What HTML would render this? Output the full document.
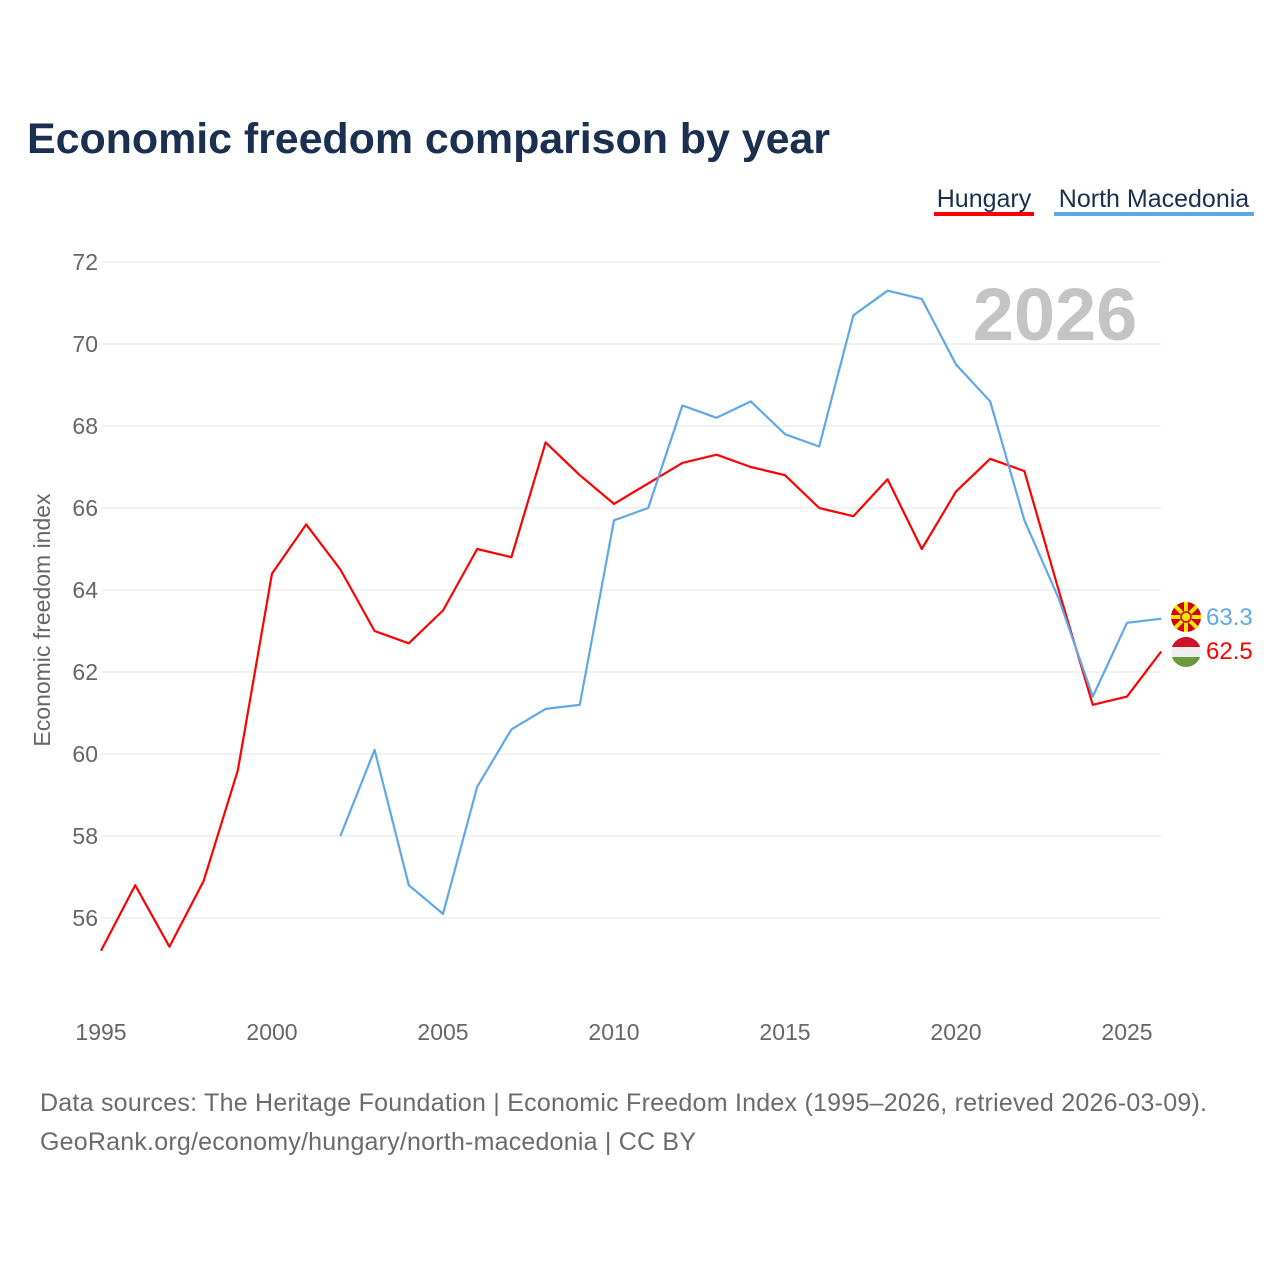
<!DOCTYPE html>
<html><head><meta charset="utf-8"><style>
body{margin:0;background:#fff;width:1280px;height:1280px;overflow:hidden;font-family:"Liberation Sans",sans-serif}
</style></head><body>
<svg width="1280" height="1280" xmlns="http://www.w3.org/2000/svg">
<text x="27" y="153" font-size="43" font-weight="bold" fill="#1b2f50" textLength="803">Economic freedom comparison by year</text>
<g>
<text x="984" y="207" font-size="25" fill="#1b2f50" text-anchor="middle">Hungary</text>
<rect x="934" y="212" width="100" height="4" fill="#ff0000"/>
<text x="1154" y="207" font-size="25" fill="#1b2f50" text-anchor="middle">North Macedonia</text>
<rect x="1054" y="212" width="200" height="4" fill="#5ea8e8"/>
</g>
<g id="grid"></g>
<g id="yt"></g>
<g id="xt"></g>
<text x="1055" y="340" font-size="74" font-weight="bold" fill="#c4c4c4" text-anchor="middle">2026</text>
<text transform="translate(50,620) rotate(-90)" font-size="23" fill="#666" text-anchor="middle">Economic freedom index</text>
<g id="lines"></g>
<g>
<circle cx="1186" cy="617" r="15" fill="#d20000"/>
<g stroke="#ffe600" stroke-width="4">
<line x1="1171" y1="617" x2="1201" y2="617"/><line x1="1186" y1="602" x2="1186" y2="632"/>
<line x1="1175" y1="606" x2="1197" y2="628"/><line x1="1197" y1="606" x2="1175" y2="628"/>
</g><circle cx="1186" cy="617" r="5" fill="#ffe600" stroke="#d20000" stroke-width="1.5"/>
</g>
<g>
<clipPath id="hc"><circle cx="1186" cy="652" r="15"/></clipPath>
<g clip-path="url(#hc)"><rect x="1170" y="637" width="32" height="10" fill="#ce1126"/><rect x="1170" y="647" width="32" height="10" fill="#eee"/><rect x="1170" y="657" width="32" height="11" fill="#6a9a3a"/></g>
</g>
<text id="lblN" x="1206" y="625" font-size="24" fill="#5ea8e8"></text>
<text id="lblH" x="1206" y="659" font-size="24" fill="#ff0000"></text>
<text x="40" y="1111" font-size="25" fill="#6b6b6b" textLength="1167">Data sources: The Heritage Foundation | Economic Freedom Index (1995–2026, retrieved 2026-03-09).</text>
<text x="40" y="1150" font-size="25" fill="#6b6b6b" textLength="656">GeoRank.org/economy/hungary/north-macedonia | CC BY</text>
</svg>
<script>
const years=[1995,1996,1997,1998,1999,2000,2001,2002,2003,2004,2005,2006,2007,2008,2009,2010,2011,2012,2013,2014,2015,2016,2017,2018,2019,2020,2021,2022,2023,2024,2025,2026];
const hungary=[55.2,56.8,55.3,56.9,59.6,64.4,65.6,64.5,63.0,62.7,63.5,65.0,64.8,67.6,66.8,66.1,66.6,67.1,67.3,67.0,66.8,66.0,65.8,66.7,65.0,66.4,67.2,66.9,64.0,61.2,61.4,62.5];
const macedonia=[null,null,null,null,null,null,null,58.0,60.1,56.8,56.1,59.2,60.6,61.1,61.2,65.7,66.0,68.5,68.2,68.6,67.8,67.5,70.7,71.3,71.1,69.5,68.6,65.7,63.8,61.4,63.2,63.3];
const yTicks=[56,58,60,62,64,66,68,70,72];
const xTicks=[1995,2000,2005,2010,2015,2020,2025];
const NS='http://www.w3.org/2000/svg';
const xs=y=>101+(y-1995)*(1127-101)/30;
const ys=v=>262+(72-v)*41;
function mk(t,a,p){const e=document.createElementNS(NS,t);for(const k in a)e.setAttribute(k,a[k]);document.getElementById(p).appendChild(e);return e;}
yTicks.forEach(v=>{
const l=mk('line',{x1:101,x2:1161,y1:ys(v),y2:ys(v),stroke:'#e6e6e6','stroke-width':1},'grid');


const t=mk('text',{x:98,y:ys(v)+8,'font-size':23,fill:'#666','text-anchor':'end'},'yt');t.textContent=v;


});
xTicks.forEach(v=>{
const t=mk('text',{x:xs(v),y:1040,'font-size':23,fill:'#666','text-anchor':'middle'},'xt');t.textContent=v;


});
function line(d,c,n){let s='';d.forEach((v,i)=>{if(v==null)return;s+=(s?'L':'M')+xs(years[i])+','+ys(v);});
const p=mk('path',{d:s,fill:'none',stroke:c,'stroke-width':2.2,'stroke-linejoin':'round'},'lines');

}
line(hungary,'#ff0000','line-hungary');
line(macedonia,'#5ea8e8','line-north-macedonia');
document.getElementById('lblN').textContent=macedonia[macedonia.length-1].toFixed(1);
document.getElementById('lblH').textContent=hungary[hungary.length-1].toFixed(1);
</script>
</body></html>
